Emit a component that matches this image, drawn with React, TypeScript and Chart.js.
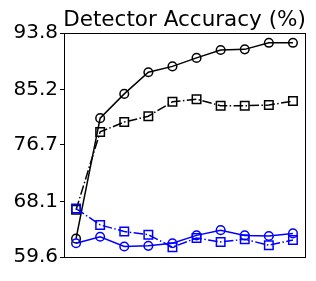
import React, { useEffect, useRef } from "react";
import { Chart, registerables } from "chart.js";

Chart.register(...registerables);

const steps = [1, 2, 3, 4, 5, 6, 7, 8, 9, 10];
const yTicks = [59.6, 68.1, 76.7, 85.2, 93.8];
const blackSolid = [62.4, 80.8, 84.5, 87.8, 88.7, 90.0, 91.2, 91.3, 92.3, 92.3];
const blackDashDot = [66.8, 78.7, 80.2, 81.1, 83.3, 83.7, 82.7, 82.7, 82.8, 83.4];
const blueSolid = [61.7, 62.7, 61.2, 61.3, 61.7, 62.9, 63.7, 62.9, 62.8, 63.2];
const blueDashDot = [67.0, 64.5, 63.5, 63.0, 61.1, 62.5, 61.9, 62.3, 61.4, 62.2];
const title = "Detector Accuracy (%)";

const FONT = "DejaVu Sans";

export default function App() {
  const ref = useRef<HTMLCanvasElement | null>(null);
  useEffect(() => {
    document.body.style.margin = "0";
    const ctx = ref.current!;
    const mk = (d: number[], color: string, dash: number[], style: string, order: number) => ({
      data: steps.map((x, i) => ({ x, y: d[i] })),
      borderColor: color,
      backgroundColor: "rgba(0,0,0,0)",
      borderWidth: 1.5,
      borderDash: dash,
      pointStyle: style,
      pointRadius: style === "rect" ? 6 : 4.3,
      pointBorderWidth: 1.5,
      pointBorderColor: color,
      pointBackgroundColor: "rgba(0,0,0,0)",
      tension: 0,
      order,
    });
    const dd = [9.6, 2.4, 1.5, 2.4];
    const framePlugin = {
      id: "frame",
      afterDraw(chart: any) {
        const { ctx: c, chartArea: a } = chart;
        c.save();
        c.strokeStyle = "#000";
        c.lineWidth = 1;
        c.strokeRect(Math.round(a.left) + 0.5, Math.round(a.top) + 0.5, Math.round(a.right - a.left), Math.round(a.bottom - a.top));
        c.fillStyle = "#000";
        c.font = `21.5px '${FONT}'`;
        c.textAlign = "center";
        c.textBaseline = "alphabetic";
        c.fillText(title, (a.left + a.right) / 2, 26);
        c.restore();
      },
    };
    const chart = new Chart(ctx, {
      type: "line",
      data: {
        datasets: [
          mk(blackSolid, "#000000", [], "circle", 4),
          mk(blackDashDot, "#000000", dd, "rect", 3),
          mk(blueSolid, "#0000ff", [], "circle", 2),
          mk(blueDashDot, "#0000ff", dd, "rect", 1),
        ] as any,
      },
      options: {
        animation: false,
        responsive: false,
        devicePixelRatio: 1,
        layout: { padding: { top: 33, right: 11, bottom: 24, left: 0 } },
        plugins: { legend: { display: false }, tooltip: { enabled: false }, title: { display: false } },
        scales: {
          x: {
            type: "linear",
            min: 0.5,
            max: 10.5,
            display: false,
          },
          y: {
            type: "linear",
            min: yTicks[0],
            max: yTicks[yTicks.length - 1],
            afterBuildTicks: (s: any) => {
              s.ticks = yTicks.map((v) => ({ value: v }));
            },
            afterFit: (s: any) => {
              s.width = 64;
            },
            ticks: {
              color: "#000",
              font: { family: FONT, size: 20 },
              padding: 2,
              callback: (v: any) => Number(v).toFixed(1),
            },
            grid: { display: true, drawOnChartArea: false, drawTicks: true, tickLength: 4, color: "#000" },
            border: { display: true, color: "#000" },
          },
        },
      },
      plugins: [framePlugin],
    });
    return () => chart.destroy();
  }, []);
  return (
    <div style={{ position: "absolute", left: 0, top: 0, width: 316, height: 281 }}>
      <canvas ref={ref} width={316} height={281} style={{ width: 316, height: 281 }} />
    </div>
  );
}
